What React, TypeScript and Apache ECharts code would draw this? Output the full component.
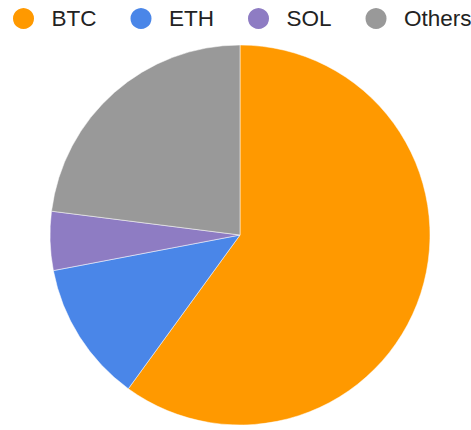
import React, { useEffect, useRef } from "react";
import * as echarts from "echarts";

const categories = ["BTC", "ETH", "SOL", "Others"];
const values = [60, 12, 5, 23];
const colors = ["#FF9900", "#4A86E8", "#8E7CC3", "#999999"];

export default function App() {
  const ref = useRef<HTMLDivElement>(null);
  useEffect(() => {
    if (!ref.current) return;
    const chart = echarts.init(ref.current, null, { renderer: "svg" });
    chart.setOption({
      animation: false,
      color: colors,
      legend: {
        data: categories,
        left: 11,
        top: 6,
        width: 465,
        padding: 0,
        icon: "circle",
        itemWidth: 23,
        itemHeight: 23,
        itemGap: 32,
        textStyle: {
          fontFamily: "Liberation Sans, Arial, sans-serif",
          fontSize: 22.5,
          color: "#222222",
          padding: [0, 0, 0, 11.5],
        },
      },
      series: [
        {
          type: "pie",
          center: [240, 235],
          radius: 190,
          startAngle: 90,
          clockwise: true,
          label: { show: false },
          labelLine: { show: false },
          itemStyle: { borderColor: "#ffffff", borderWidth: 0.5 },
          emphasis: { disabled: true },
          data: categories.map((c, i) => ({ name: c, value: values[i] })),
        },
      ],
    });
    return () => chart.dispose();
  }, []);
  return (
    <div
      ref={ref}
      style={{ position: "absolute", left: 0, top: 0, width: 471, height: 430 }}
    />
  );
}
